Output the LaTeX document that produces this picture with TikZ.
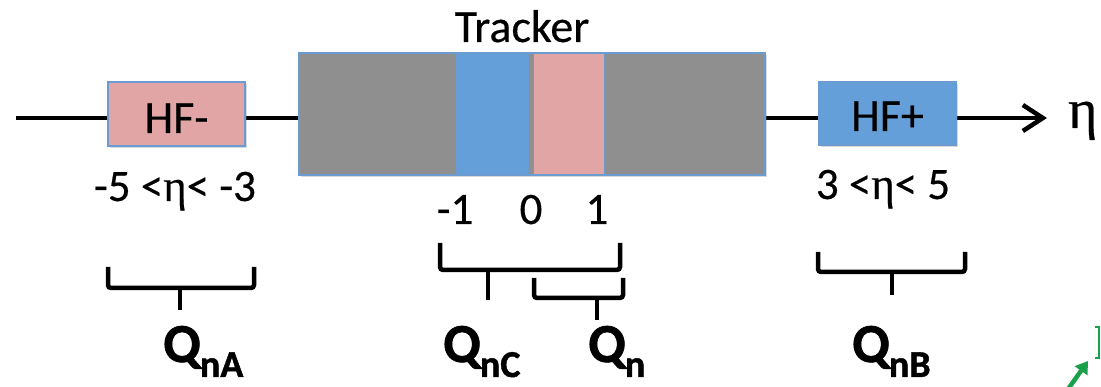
\documentclass[tikz,border=0pt]{standalone}
\usepackage{fontspec}
\setmainfont{Carlito}[FakeBold=0.4]
\newfontfamily\grk{Liberation Serif}[FakeBold=0.4]
\newfontfamily\qfont{Carlito Bold}[FakeBold=1.2]
\usetikzlibrary{arrows.meta,shadows}

\definecolor{trkgray}{HTML}{8F8F8F}
\definecolor{bandblue}{HTML}{659FDA}
\definecolor{bandpink}{HTML}{E0A5A4}
\definecolor{edgeblue}{HTML}{6B9BD1}
\definecolor{markgreen}{HTML}{1A9F4A}

\tikzset{
  box/.style={draw=edgeblue, line width=1.3pt, inner sep=0pt,
    drop shadow={shadow xshift=1.5pt, shadow yshift=-2.5pt, opacity=0.3}},
  band/.style={draw=edgeblue, line width=1pt, inner sep=0pt},
  lbl/.style={anchor=base, inner sep=0pt, font=\fontsize{46}{50}\selectfont},
  rng/.style={anchor=base, inner sep=0pt, font=\fontsize{45}{50}\selectfont},
  tick/.style={anchor=base, inner sep=0pt, font=\fontsize{45}{50}\selectfont},
  qlbl/.style={anchor=base west, inner sep=0pt, font=\fontsize{55}{60}\selectfont\qfont},
  brace/.style={line width=4.5pt, rounded corners=3pt, line cap=butt},
  axis/.style={line width=4.5pt, -{Straight Barb[length=20pt,width=26pt,line width=4.5pt]}},
}
\newcommand{\qsub}[1]{\kern-1pt\raisebox{-15pt}{\fontsize{38}{44}\selectfont #1}}

\begin{document}
\begin{tikzpicture}[x=1pt, y=-1pt]
  \useasboundingbox (0,0) rectangle (1101,387);

  % eta axis
  \coordinate (axstart) at (16,118);
  \coordinate (axend) at (1047,118);
  \draw[axis] (axstart) -- (axend);
  \node[anchor=base west, inner sep=0pt, font=\fontsize{56}{60}\selectfont\grk] (eta) at (1068,128) {η};

  % detectors along the axis
  \node[box, fill=bandpink, minimum width=137pt, minimum height=64pt] (hfm) at (176.5,114) {};
  \node[box, fill=trkgray, minimum width=466pt, minimum height=122pt] (trk) at (532,114) {};
  \node[band, fill=bandblue, minimum width=72pt, minimum height=121pt] (cband) at (492,114.5) {};
  \node[band, fill=bandpink, minimum width=71pt, minimum height=121pt] (fband) at (568.5,114.5) {};
  \node[box, fill=bandblue, minimum width=137pt, minimum height=63pt] (hfp) at (887.5,113.5) {};

  % texts
  \node[lbl] (trktxt) at (522,42) {Tracker};
  \node[lbl] (hfmtxt) at (176.5,133) {HF-};
  \node[lbl] (hfptxt) at (887.5,131) {HF+};
  \node[rng] (hfmrng) at (175,201) {-5 <{\grk η}< -3};
  \node[rng] (hfprng) at (883,199) {3 <{\grk η}< 5};
  \node[tick] (tm1) at (455,224) {-1};
  \node[tick] (t0) at (531,224) {0};
  \node[tick] (tp1) at (597,224) {1};

  % braces
  \draw[brace] (108,267) -- (108,288) -- (254,288) -- (254,267);
  \draw[brace] (180,288) -- (180,310);
  \draw[brace] (440,243) -- (440,270) -- (620,270) -- (620,243);
  \draw[brace] (488,270) -- (488,300);
  \draw[brace] (534,278) -- (534,298) -- (623,298) -- (623,278);
  \draw[brace] (597,298) -- (597,320);
  \draw[brace] (818,252) -- (818,272) -- (965,272) -- (965,252);
  \draw[brace] (892,272) -- (892,295);

  % flow vector labels
  \node[qlbl] (qna) at (163,362) {Q\qsub{nA}};
  \node[qlbl] (qnc) at (443,362) {Q\qsub{nC}};
  \node[qlbl] (qn) at (588,362) {Q\qsub{n}};
  \node[qlbl] (qnb) at (852,362) {Q\qsub{nB}};

  % green marker at the lower right
  \draw[markgreen, line width=1.5pt] (1095,327) -- (1099,327) -- (1099,358) -- (1095,358);
  \coordinate (gtail) at (1066,392);
  \coordinate (ghead) at (1088,361);
  \draw[markgreen, line width=4.5pt, -{Triangle[length=12pt,width=15pt]}] (gtail) -- (ghead);
\end{tikzpicture}
\end{document}
